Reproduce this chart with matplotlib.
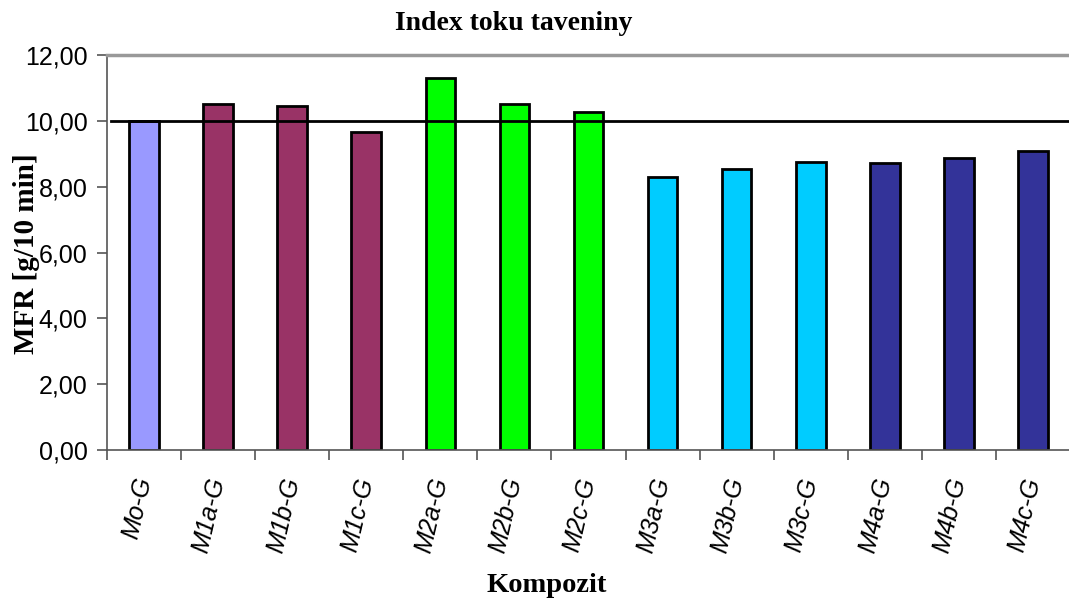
import matplotlib.pyplot as plt
from matplotlib.ticker import FuncFormatter, FixedLocator

labels = ["Mo-G", "M1a-G", "M1b-G", "M1c-G", "M2a-G", "M2b-G", "M2c-G",
          "M3a-G", "M3b-G", "M3c-G", "M4a-G", "M4b-G", "M4c-G"]
mfr = [10.00, 10.51, 10.45, 9.66, 11.30, 10.51, 10.27,
       8.29, 8.54, 8.75, 8.71, 8.88, 9.07]
colors = ["#9999FF", "#993366", "#993366", "#993366", "#00FF00", "#00FF00", "#00FF00",
          "#00CCFF", "#00CCFF", "#00CCFF", "#333399", "#333399", "#333399"]
ref_level = 10.0

fig = plt.figure(figsize=(10.69, 6.01), dpi=100)
ax = fig.add_axes([107 / 1069, 1 - 450 / 601, 963 / 1069, 395 / 601])

x = range(len(labels))
ax.bar(x, mfr, width=0.4, color=colors, edgecolor="black", linewidth=2, zorder=2)
ax.axhline(ref_level, xmin=0.004, xmax=1, color="black", linewidth=2, zorder=3)

ax.set_xlim(-0.5, len(labels) - 0.5)
ax.set_ylim(0, 12)
ax.set_yticks([0, 2, 4, 6, 8, 10, 12])
ax.yaxis.set_major_formatter(FuncFormatter(lambda v, p: f"{v:.2f}".replace(".", ",")))

# category labels, ticks sit on the boundaries between bars
ax.set_xticks(list(x))
ax.set_xticklabels(labels, rotation=77, ha="right", va="center", rotation_mode="anchor",
                   fontsize=18, style="italic", family="Liberation Sans")
ax.xaxis.set_minor_locator(FixedLocator([i - 0.5 for i in range(len(labels) + 1)]))
ax.tick_params(axis="x", which="major", length=0, pad=20)
ax.tick_params(axis="x", which="minor", length=7, width=1.2, color="#555555")
ax.tick_params(axis="y", length=7, width=1.2, color="#555555", labelsize=18, pad=7)
for t in ax.get_yticklabels():
    t.set_family("Liberation Sans")

ax.spines["right"].set_visible(False)
ax.spines["top"].set_color("#999999")
ax.spines["top"].set_linewidth(2.5)
ax.spines["left"].set_color("#555555")
ax.spines["left"].set_linewidth(1.2)
ax.spines["bottom"].set_color("#555555")
ax.spines["bottom"].set_linewidth(1.2)

fig.text(514 / 1069, 1 - 23 / 601, "Index toku taveniny", ha="center", va="center",
         fontsize=20, fontweight="bold", family="Liberation Serif")
fig.text(27 / 1069, 1 - 254 / 601, "MFR [g/10 min]", ha="center", va="center",
         rotation=90, fontsize=21, fontweight="bold", family="Liberation Serif")
fig.text(547 / 1069, 1 - 585 / 601, "Kompozit", ha="center", va="center",
         fontsize=20.5, fontweight="bold", family="Liberation Serif")

fig.savefig("out.png", dpi=100)
